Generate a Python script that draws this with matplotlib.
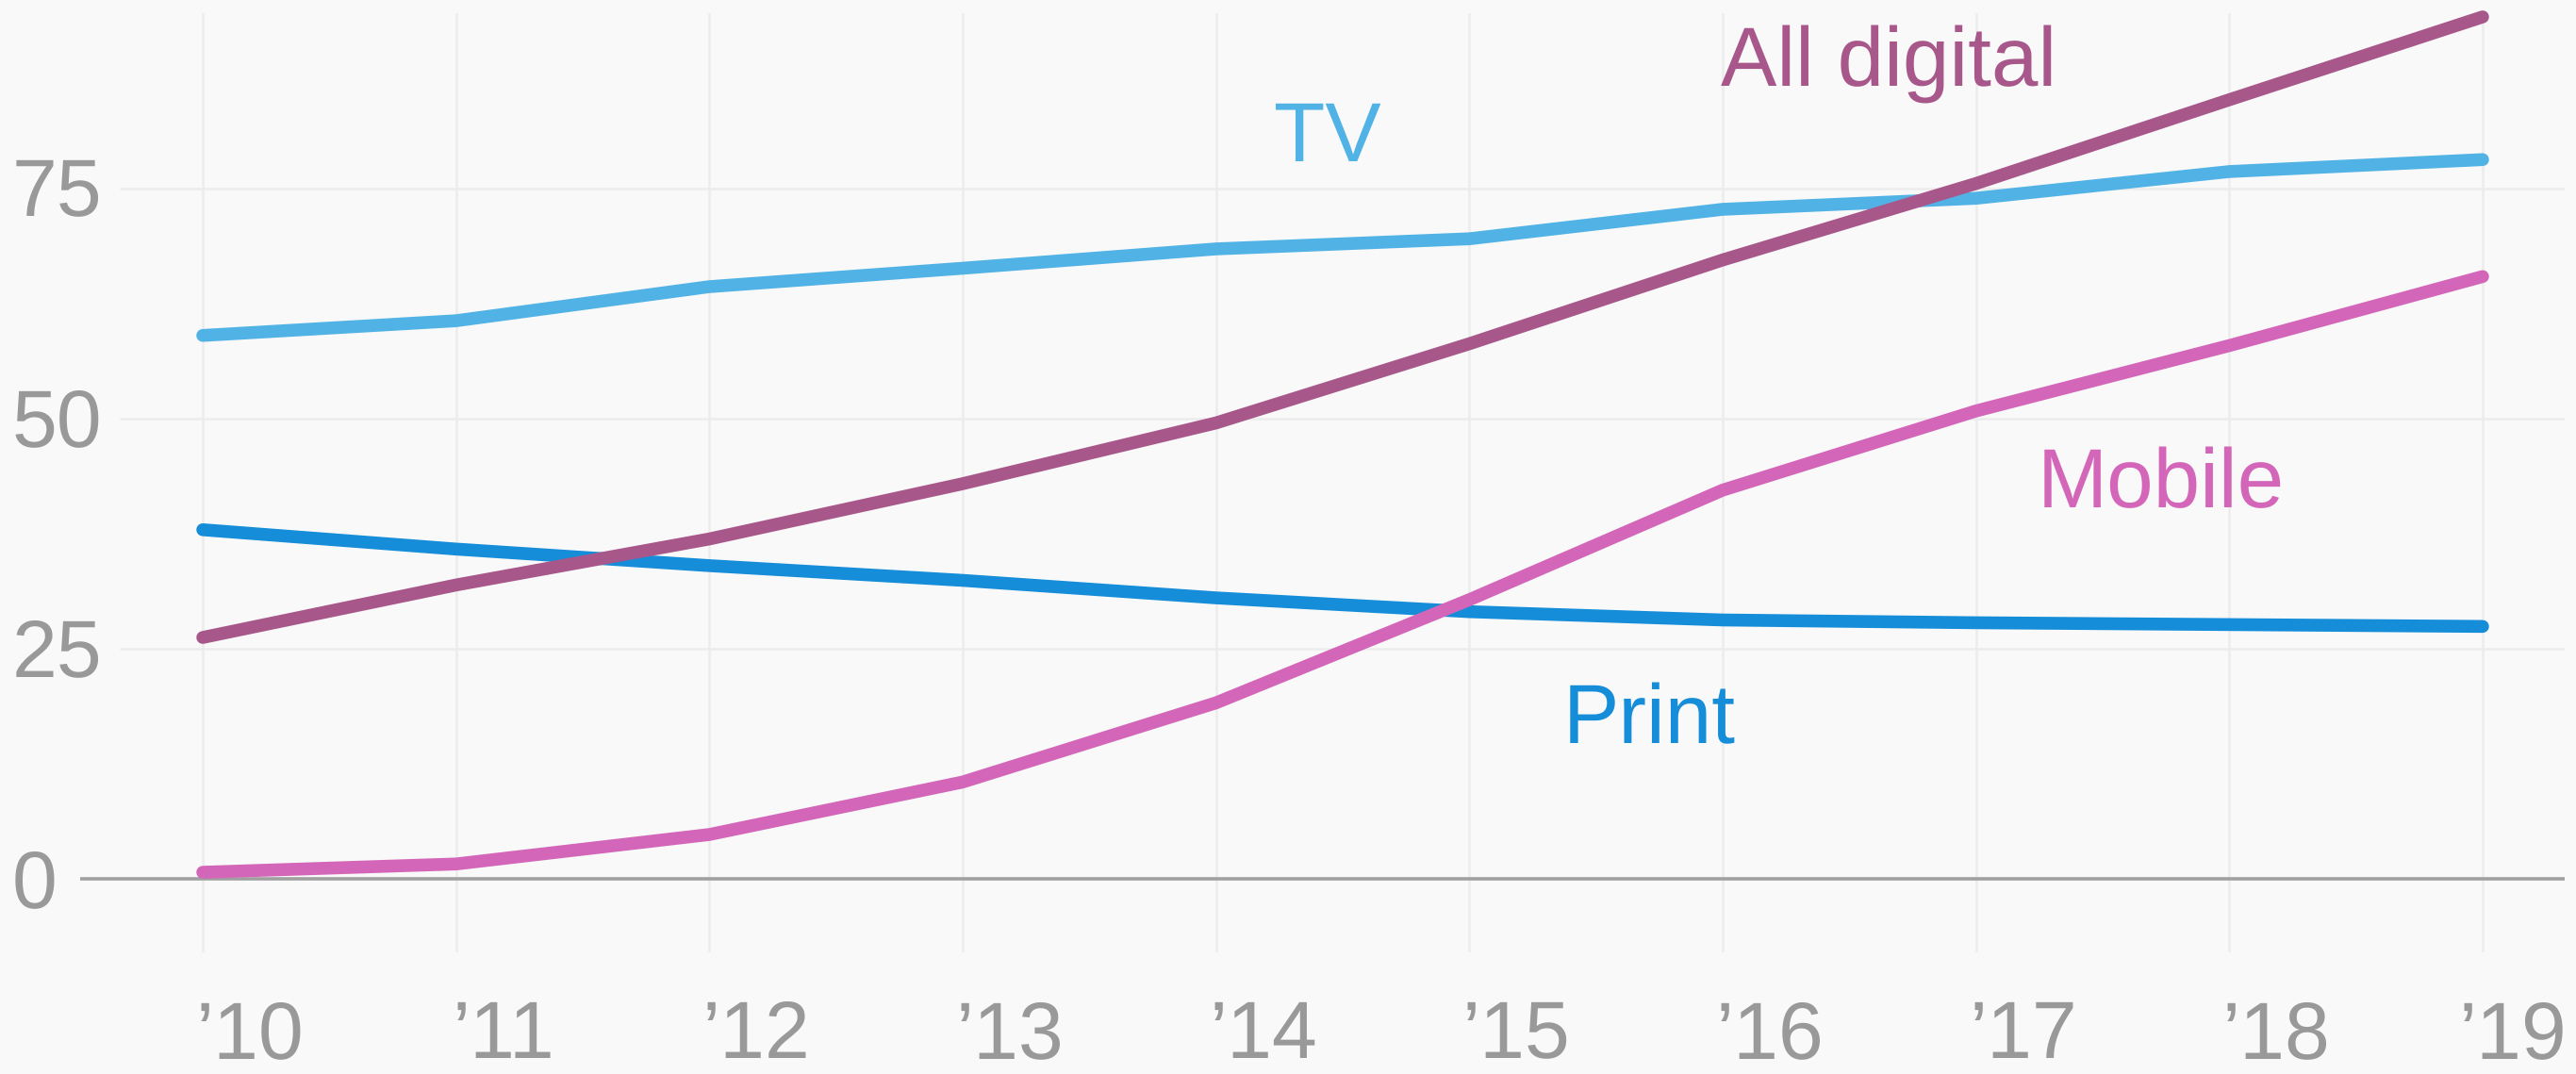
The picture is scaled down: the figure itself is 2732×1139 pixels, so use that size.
import matplotlib
matplotlib.use("Agg")
import matplotlib.pyplot as plt
import matplotlib.transforms as mtransforms

years = [2010, 2011, 2012, 2013, 2014, 2015, 2016, 2017, 2018, 2019]
year_labels = ["\u201910", "\u201911", "\u201912", "\u201913", "\u201914",
               "\u201915", "\u201916", "\u201917", "\u201918", "\u201919"]
tv = [59.0, 60.6, 64.3, 66.3, 68.4, 69.5, 72.7, 73.9, 76.8, 78.1]
all_digital = [26.2, 31.9, 36.9, 42.9, 49.5, 58.1, 67.2, 75.5, 84.6, 93.6]
mobile = [0.7, 1.6, 4.8, 10.5, 19.1, 30.3, 42.2, 50.8, 57.9, 65.4]
print_ = [37.9, 35.8, 34.0, 32.4, 30.5, 29.0, 28.1, 27.8, 27.6, 27.4]
y_ticks = [0, 25, 50, 75]

series = [
    ("TV", tv, "#51b2e5", 2014.44, 77.9),
    ("Print", print_, "#168dd9", 2015.71, 14.7),
    ("All digital", all_digital, "#a8578b", 2016.655, 86.2),
    ("Mobile", mobile, "#d366b9", 2017.73, 40.3),
]

plt.rcParams['font.family'] = ['Liberation Sans', 'DejaVu Sans']
plt.rcParams['text.hinting'] = 'no_hinting'
plt.rcParams['text.hinting_factor'] = 1
bg = "#f9f9f9"
dpi = 200
fig = plt.figure(figsize=(13.66, 5.695), dpi=dpi, facecolor=bg)
ax = fig.add_axes([85/2732, 1-1010/1139, (2720-85)/2732, (1010-14)/1139])
ax.set_facecolor(bg)
x0, x1 = 2009.516, 2019.324
ax.set_xlim(x0, x1)
ax.set_ylim(-8, 94)
for s in ax.spines.values():
    s.set_visible(False)
ax.set_xticks([])
ax.set_yticks([])

# grid
for y in y_ticks[1:]:
    ax.hlines(y, 2009.672, x1, color="#ececec", lw=0.9, zorder=1)
for x in years:
    ax.axvline(x, color="#ececec", lw=0.9, zorder=1)
ax.hlines(0, x0, x1, color="#a0a0a0", lw=1.3, zorder=2)

for name, vals, col, lx, ly in series:
    ax.plot(years, vals, color=col, lw=4.9, solid_capstyle='round',
            solid_joinstyle='round', zorder=3, clip_on=False)
    ax.text(lx, ly, name, color=col, fontsize=32, ha='center', va='baseline', zorder=4)

tick_col = "#999999"
tick_size = 31
trans_y = mtransforms.blended_transform_factory(fig.transFigure, ax.transData)
for y in y_ticks:
    ax.text(13/2732, y - 3.05, str(y), transform=trans_y, color=tick_col,
            fontsize=tick_size, ha='left', va='baseline')
trans_x = mtransforms.blended_transform_factory(ax.transData, fig.transFigure)
for i, (x, lab) in enumerate(zip(years, year_labels)):
    dx = 32 if i == len(years) - 1 else 50
    tr = mtransforms.offset_copy(trans_x, fig=fig, x=dx * 72 / dpi, y=0, units='points')
    ax.text(x, 1-1122/1139, lab, transform=tr, color=tick_col, fontsize=tick_size,
            ha='center', va='baseline')

fig.savefig("out.png", dpi=dpi, facecolor=bg)
